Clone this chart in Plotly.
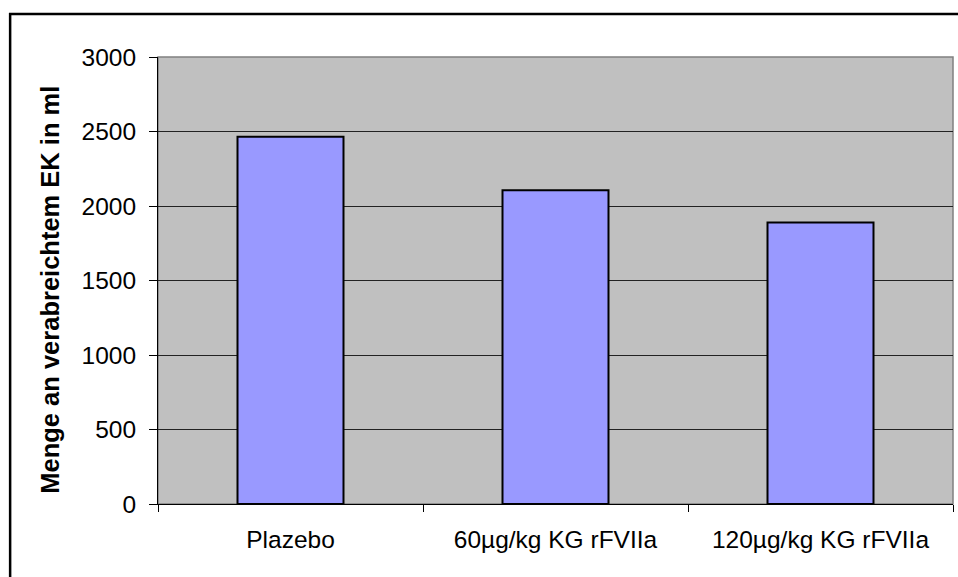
import plotly.graph_objects as go

# Transfused red cell concentrate per treatment group
categories = ["Plazebo", "60µg/kg KG rFVIIa", "120µg/kg KG rFVIIa"]
volume_ml = [2465, 2105, 1890]
y_ticks = [0, 500, 1000, 1500, 2000, 2500, 3000]
y_title = "Menge an verabreichtem EK in ml"

FONT = "Liberation Sans, Arial, sans-serif"

fig = go.Figure(
    go.Bar(
        x=categories,
        y=volume_ml,
        marker=dict(color="#9999FF", line=dict(color="black", width=2)),
        hoverinfo="x+y",
    )
)

fig.update_layout(
    width=958,
    height=577,
    margin=dict(l=158, r=5, t=57, b=73),
    paper_bgcolor="white",
    plot_bgcolor="#C0C0C0",
    bargap=0.6,
    showlegend=False,
    font=dict(family=FONT, size=24, color="black"),
    shapes=[
        # chart frame (right/bottom run off the page)
        dict(type="rect", xref="paper", yref="paper",
             x0=-0.186, x1=1.1, y0=-0.25, y1=1.096,
             line=dict(color="black", width=2.5), fillcolor="rgba(0,0,0,0)",
             layer="below"),
        # plot area border
        dict(type="rect", xref="paper", yref="paper",
             x0=0, x1=1, y0=0, y1=1,
             line=dict(color="#808080", width=1.5), fillcolor="rgba(0,0,0,0)",
             layer="below"),
    ],
    annotations=[
        dict(text=f"<b>{y_title}</b>", xref="paper", yref="paper",
             x=-0.136, y=0.479, xanchor="center", yanchor="middle",
             textangle=-90, showarrow=False,
             font=dict(family=FONT, size=25.5, color="black")),
    ],
)

fig.update_xaxes(
    type="category",
    tickson="boundaries",
    ticks="outside",
    ticklen=7,
    tickcolor="black",
    tickwidth=1,
    showline=True,
    linecolor="black",
    linewidth=1,
    showgrid=False,
    tickfont=dict(size=24.5),
    ticklabelstandoff=14,
)

fig.update_yaxes(
    range=[0, 3000],
    tickvals=y_ticks,
    ticks="outside",
    ticklen=8,
    tickcolor="black",
    tickwidth=1,
    showline=True,
    linecolor="black",
    linewidth=1,
    showgrid=True,
    gridcolor="#222222",
    gridwidth=1,
    zeroline=False,
    tickfont=dict(size=24.5),
    ticklabelstandoff=8,
)

fig.write_html("out.html")
